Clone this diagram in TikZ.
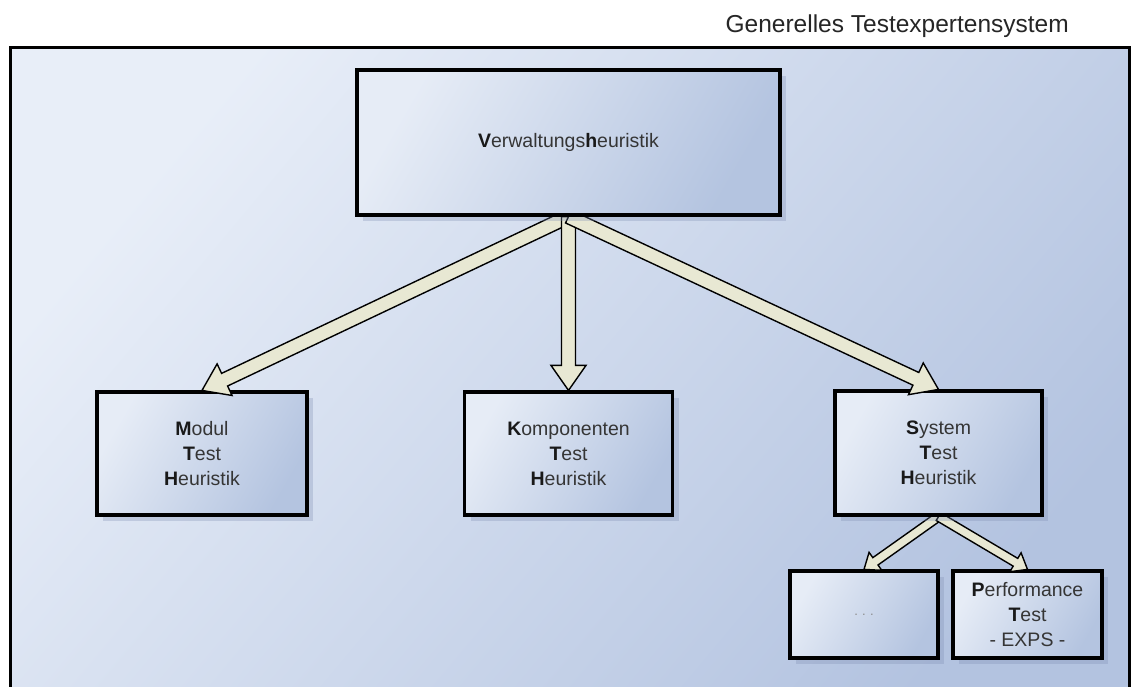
\documentclass[tikz,border=0pt]{standalone}
\usepackage{fontspec}
\setmainfont{Liberation Sans}
\usetikzlibrary{calc,shadows}
\pgfdeclarelayer{bg}\pgfdeclarelayer{lone}\pgfdeclarelayer{ltwo}\pgfdeclarelayer{lthree}\pgfdeclarelayer{lfour}
\pgfsetlayers{bg,lone,ltwo,lthree,lfour,main}
\definecolor{frameL}{HTML}{E8EEF8}
\definecolor{frameM}{HTML}{C2D0E8}
\definecolor{frameR}{HTML}{B3C3E0}
\definecolor{boxL}{HTML}{E6ECF6}
\definecolor{boxR}{HTML}{B4C4E0}
\definecolor{arrowfill}{HTML}{E8E8D3}
\definecolor{txt}{HTML}{353535}
\definecolor{shadowc}{HTML}{7E8DB2}
\newcommand\bfini[1]{\textbf{\color{black!90}#1}}
\newcommand\blockarrow[5]{%
  \path ($(#2)!#5!(#1)$) coordinate (ba-c);
  \draw[arrowstyle] ($(#1)!#3!90:(#2)$) -- ($(ba-c)!#3!90:(#2)$) -- ($(ba-c)!#4!90:(#2)$) -- (#2)
    -- ($(ba-c)!#4!-90:(#2)$) -- ($(ba-c)!#3!-90:(#2)$) -- ($(#1)!#3!-90:(#2)$) -- cycle;}
\tikzset{
  boxstyle/.style={draw=black, line width=3.2pt, rectangle, inner sep=0pt,
    top color=boxL, bottom color=boxR, shading angle=60,
    drop shadow={shadow xshift=6pt, shadow yshift=-6pt, fill=shadowc, opacity=0.3},
    align=center, text=txt, font=\fontsize{19.5}{25}\selectfont},
  framestyle/.style={draw=black, line width=3.2pt, rectangle, inner sep=0pt,
    top color=frameL, middle color=frameM, bottom color=frameR, shading angle=50},
  arrowstyle/.style={draw=black, line width=1.4pt, fill=arrowfill, line join=miter},
  titlestyle/.style={font=\fontsize{24.5}{29}\selectfont, text=black!85, inner sep=0pt}
}
\begin{document}
\begin{tikzpicture}[x=1pt,y=-1pt]
\useasboundingbox (0,0) rectangle (1132,686);
\begin{pgfonlayer}{bg}
\fill[white] (0,0) rectangle (1132,686);
\node[framestyle, anchor=north west, minimum width=1119pt, minimum height=680pt] (frame) at (9,46) {};
\end{pgfonlayer}
\node[titlestyle, anchor=base east] (title) at (1069,32) {Generelles Testexpertensystem};
% top box
\node[boxstyle, minimum width=423pt, minimum height=145pt] (top) at (568.5,142.5) {\bfini{V}erwaltungs\bfini{h}euristik};
\begin{pgfonlayer}{lone}
\node[boxstyle, minimum width=210pt, minimum height=123pt] (modul) at (202,453.5) {\bfini{M}odul\\\bfini{T}est\\\bfini{H}euristik};
\node[boxstyle, minimum width=208pt, minimum height=123pt] (komp) at (568.5,453.5) {\bfini{K}omponenten\\\bfini{T}est\\\bfini{H}euristik};
\node[boxstyle, minimum width=148pt, minimum height=87pt] (dots) at (864,614.5) {\fontsize{13}{15}\selectfont\color{black!45}.\,\,.\,\,.};
\node[boxstyle, minimum width=149pt, minimum height=87pt] (perf) at (1027.5,614.5) {\bfini{P}erformance\\\bfini{T}est\\- EXPS -};
\end{pgfonlayer}
\begin{pgfonlayer}{lthree}
\node[boxstyle, minimum width=207pt, minimum height=124pt] (sys) at (938.5,453) {\bfini{S}ystem\\\bfini{T}est\\\bfini{H}euristik};
\end{pgfonlayer}
\begin{pgfonlayer}{ltwo}
\blockarrow{sys.south}{dots.north}{4.5pt}{11pt}{14pt}
\blockarrow{sys.south}{perf.north}{4.5pt}{11pt}{14pt}
\end{pgfonlayer}
\begin{pgfonlayer}{lfour}
\blockarrow{top.south}{modul.north}{7pt}{17.5pt}{25pt}
\blockarrow{top.south}{komp.north}{7pt}{17.5pt}{25pt}
\blockarrow{top.south}{sys.north}{7pt}{17.5pt}{25pt}
\end{pgfonlayer}
\end{tikzpicture}
\end{document}
